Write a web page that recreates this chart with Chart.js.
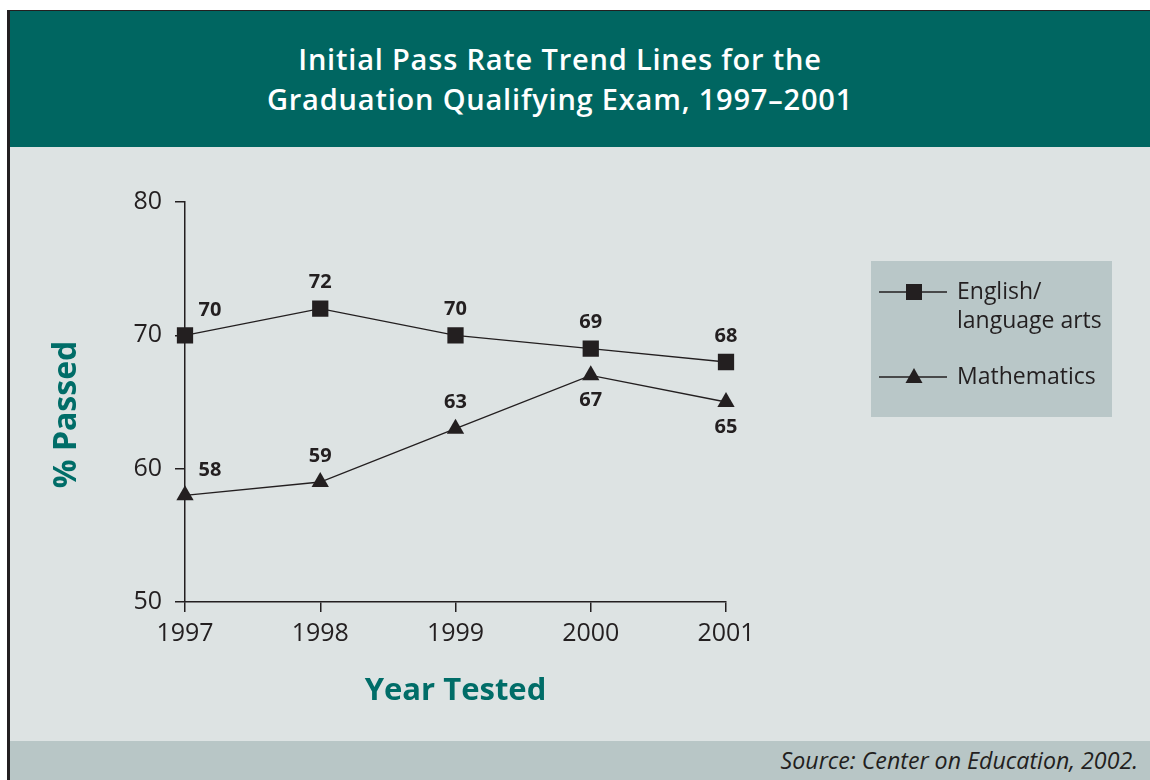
<!DOCTYPE html>
<html>
<head>
<meta charset="utf-8">
<script src="https://cdn.jsdelivr.net/npm/chart.js@4/dist/chart.umd.min.js"></script>
<style>
  html, body { margin: 0; padding: 0; background: #ffffff; width: 1150px; height: 780px; overflow: hidden; }
  #frame { position: absolute; left: 7px; top: 10px; width: 1143px; height: 770px;
           border-left: 3px solid #231f20; border-top: 1px solid #231f20; box-sizing: border-box; }
  #header { position: absolute; left: 10px; top: 11px; width: 1140px; height: 136px; background: #006661;
            color: #ffffff; font-family: "Open Sans", sans-serif; font-weight: 600; font-size: 29px; line-height: 40px;
            letter-spacing: 0.8px; text-align: center; box-sizing: border-box; padding-top: 28px; padding-right: 40px; }
  #body { position: absolute; left: 10px; top: 147px; width: 1140px; height: 594px; background: #dde3e3; }
  #footer { position: absolute; left: 10px; top: 741px; width: 1140px; height: 39px; background: #b8c6c6;
            font-family: "Open Sans", sans-serif; font-style: italic; font-size: 23.2px; color: #231f20;
            text-align: right; line-height: 39px; box-sizing: border-box; padding-right: 12px; }
  #wrap { position: absolute; left: 0; top: 0; width: 1140px; height: 594px; }
</style>
</head>
<body>
<div id="frame"></div>
<div id="header">Initial Pass Rate Trend Lines for the<br>Graduation Qualifying Exam, 1997–2001</div>
<div id="body"><div id="wrap"><canvas id="c" width="1140" height="594"></canvas></div></div>
<div id="footer">Source: Center on Education, 2002.</div>
<script>
const years = ['1997', '1998', '1999', '2000', '2001'];
const english = [70, 72, 70, 69, 68];
const math = [58, 59, 63, 67, 65];
const seriesNames = [['English/', 'language arts'], ['Mathematics']];
const yTicks = [50, 60, 70, 80];
// label placement per point (config, not data)
const englishLabelPos = ['upright', 'above', 'above', 'above', 'above'];
const mathLabelPos = ['upright', 'above', 'above', 'below', 'below'];

const INK = '#231f20';
const TEAL = '#006d68';
const FONT = '"Open Sans", sans-serif';

const valueLabels = {
  id: 'valueLabels',
  afterDatasetsDraw(chart) {
    const ctx = chart.ctx;
    ctx.save();
    ctx.font = 'bold 20px ' + FONT;
    ctx.fillStyle = INK;
    ctx.textAlign = 'center';
    ctx.textBaseline = 'middle';
    chart.data.datasets.forEach((ds, di) => {
      const meta = chart.getDatasetMeta(di);
      meta.data.forEach((pt, i) => {
        const pos = ds.labelPos[i];
        let x = pt.x, y = pt.y;
        if (pos === 'upright') { x += 25; y -= 25; }
        else if (pos === 'above') { y -= 26; }
        else { y += 25; }
        ctx.fillText(String(ds.data[i]), x, y);
      });
    });
    ctx.restore();
  }
};

const boxLegend = {
  id: 'boxLegend',
  afterDraw(chart) {
    const ctx = chart.ctx;
    ctx.save();
    ctx.fillStyle = '#b9c7c8';
    ctx.fillRect(861, 114, 241, 156);
    const rows = [145, 230];
    chart.data.datasets.forEach((ds, di) => {
      const y = rows[di];
      ctx.strokeStyle = INK;
      ctx.lineWidth = 1.3;
      ctx.beginPath(); ctx.moveTo(869, y); ctx.lineTo(937, y); ctx.stroke();
      ctx.fillStyle = INK;
      if (ds.pointStyle === 'rect') {
        ctx.fillRect(896, y - 8, 16, 16);
      } else {
        ctx.beginPath();
        ctx.moveTo(904, y - 9);
        ctx.lineTo(912.5, y + 6);
        ctx.lineTo(895.5, y + 6);
        ctx.closePath(); ctx.fill();
      }
      ctx.font = '23px ' + FONT;
      ctx.textAlign = 'left';
      ctx.textBaseline = 'middle';
      seriesNames[di].forEach((line, li) => ctx.fillText(line, 947, y + li * 29));
    });
    ctx.restore();
  }
};

new Chart(document.getElementById('c'), {
  type: 'line',
  data: {
    labels: years,
    datasets: [
      { label: 'English/language arts', data: english, labelPos: englishLabelPos,
        borderColor: INK, borderWidth: 1.3, pointStyle: 'rect', pointRadius: 11.5,
        pointBackgroundColor: INK, pointBorderColor: INK, pointBorderWidth: 0, tension: 0 },
      { label: 'Mathematics', data: math, labelPos: mathLabelPos,
        borderColor: INK, borderWidth: 1.3, pointStyle: 'triangle', pointRadius: 10,
        pointBackgroundColor: INK, pointBorderColor: INK, pointBorderWidth: 0, tension: 0 }
    ]
  },
  options: {
    responsive: false,
    animation: false,
    layout: { padding: { top: 55, right: 424, left: 0, bottom: 0 } },
    plugins: { legend: { display: false }, tooltip: { enabled: false }, title: { display: false } },
    scales: {
      x: {
        type: 'category',
        offset: false,
        grid: { display: true, drawOnChartArea: false, drawTicks: true, tickLength: 10, color: INK, lineWidth: 1.5 },
        border: { display: true, color: INK, width: 1.5 },
        ticks: { color: INK, font: { family: FONT, size: 25 }, padding: 7, maxRotation: 0 },
        title: { display: true, text: 'Year Tested', color: TEAL,
                 font: { family: FONT, size: 31, weight: 'bold' }, padding: { top: 0, bottom: 31 } },
        afterFit(s) { s.height = 139; }
      },
      y: {
        min: 50, max: 80,
        afterBuildTicks(s) { s.ticks = yTicks.map(v => ({ value: v })); },
        grid: { display: true, drawOnChartArea: false, drawTicks: true, tickLength: 10, color: INK, lineWidth: 1.5 },
        border: { display: true, color: INK, width: 1.5 },
        ticks: { color: INK, font: { family: FONT, size: 25 }, padding: 13 },
        title: { display: true, text: '% Passed   ', color: TEAL,
                 font: { family: FONT, size: 32, weight: 'bold' }, padding: { top: 38, bottom: 0 } },
        afterFit(s) { s.width = 175; }
      }
    }
  },
  plugins: [valueLabels, boxLegend]
});
</script>
</body>
</html>
